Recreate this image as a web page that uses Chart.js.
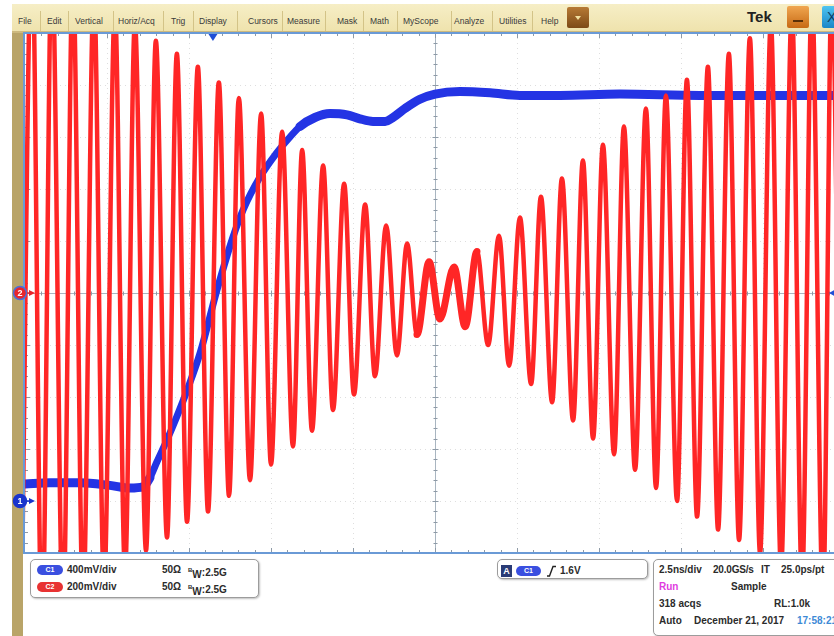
<!DOCTYPE html>
<html>
<head>
<meta charset="utf-8">
<script src="https://cdn.jsdelivr.net/npm/chart.js@4.4.1/dist/chart.umd.min.js"></script>
<style>
  html, body { margin: 0; padding: 0; width: 834px; height: 636px; overflow: hidden; background: #fff; }
  body { position: relative; font-family: "Liberation Sans", Arial, sans-serif; }
  #scope { position: absolute; left: 0; top: 0; z-index: 2; }
  .goldstrip { position: absolute; left: 12px; top: 30px; width: 11px; height: 606px; background: #b9a468; }
  .menubar { position: absolute; left: 12px; top: 4px; width: 840px; height: 27px;
             background: linear-gradient(#f6eec6, #efe3ad); border-bottom: 2px solid #cdb97e; }
  .mi { position: absolute; top: 12px; font-size: 8.5px; line-height: 11px; color: #3a3a3a; white-space: nowrap; }
  .sep { position: absolute; top: 7px; width: 1px; height: 20px; background: #d3c387; }
  .menubtn { position: absolute; top: 7px; left: 567px; width: 22px; height: 21px; border-radius: 2px;
             background: linear-gradient(#b77a35, #7c4a16); }
  .menubtn:after { content: ""; position: absolute; left: 8px; top: 9px; border-left: 3px solid transparent;
             border-right: 3px solid transparent; border-top: 4px solid #f3e1a0; }
  .tek { position: absolute; left: 747px; top: 8px; font-weight: bold; font-size: 15px; line-height: 18px; color: #222; }
  .minbtn { position: absolute; left: 787px; top: 6px; width: 22px; height: 22px; border-radius: 2px;
            background: linear-gradient(#f0a650, #c76a15); }
  .minbtn:after { content: ""; position: absolute; left: 6px; top: 14px; width: 10px; height: 2px; background: #5a3008; }
  .closebtn { position: absolute; left: 822px; top: 6px; width: 22px; height: 22px; border-radius: 2px;
              background: linear-gradient(#4fc3f0, #1a86c8); color: #0c3d66; font-size: 14px; line-height: 22px; padding-left: 5px; box-sizing: border-box; }
  .box { position: absolute; border: 1px solid #9c9c9c; border-radius: 5px; background: #fff;
         box-shadow: 1px 1px 2px rgba(0,0,0,0.25); }
  .t { position: absolute; font-weight: bold; font-size: 10px; line-height: 12px; color: #2b2b2b; white-space: nowrap; }
  .pill { position: absolute; width: 26px; height: 10px; border-radius: 5px; color: #fff; font-size: 7px;
          line-height: 10px; text-align: center; font-weight: bold; }
  .aicon { position: absolute; left: 501px; top: 565px; width: 11px; height: 12px; background: #2a3b76;
           color: #fff; font-weight: bold; font-size: 9px; line-height: 12px; text-align: center; }
  .edge { position: absolute; left: 547px; top: 565px; }
  sub.bw { font-size: 10px; vertical-align: -2px; }
  sup.bw { font-size: 6px; vertical-align: 4px; }
</style>
</head>
<body>
  <div class="goldstrip"></div>
  <div class="menubar">
    <span class="mi" style="left:6px">File</span>
    <span class="sep" style="left:28px"></span>
    <span class="mi" style="left:35px">Edit</span>
    <span class="sep" style="left:56px"></span>
    <span class="mi" style="left:63px">Vertical</span>
    <span class="sep" style="left:101px"></span>
    <span class="mi" style="left:106px">Horiz/Acq</span>
    <span class="sep" style="left:151px"></span>
    <span class="mi" style="left:159px">Trig</span>
    <span class="sep" style="left:181px"></span>
    <span class="mi" style="left:187px">Display</span>
    <span class="sep" style="left:225px"></span>
    <span class="mi" style="left:236px">Cursors</span>
    <span class="sep" style="left:270px"></span>
    <span class="mi" style="left:275px">Measure</span>
    <span class="sep" style="left:313px"></span>
    <span class="mi" style="left:325px">Mask</span>
    <span class="sep" style="left:351px"></span>
    <span class="mi" style="left:358px">Math</span>
    <span class="sep" style="left:385px"></span>
    <span class="mi" style="left:391px">MyScope</span>
    <span class="sep" style="left:439px"></span>
    <span class="mi" style="left:442px">Analyze</span>
    <span class="sep" style="left:480px"></span>
    <span class="mi" style="left:487px">Utilities</span>
    <span class="sep" style="left:520px"></span>
    <span class="mi" style="left:529px">Help</span>
  </div>
  <div class="menubtn"></div>
  <div class="tek">Tek</div>
  <div class="minbtn"></div>
  <div class="closebtn">X</div>

  <!-- channel readout -->
  <div class="box" style="left:30px; top:559px; width:227px; height:37px;"></div>
  <div class="pill" style="left:37px; top:565px; background:#3a4fe0;">C1</div>
  <span class="t" style="left:67px; top:564px;">400mV/div</span>
  <span class="t" style="left:162px; top:564px;">50Ω</span>
  <span class="t" style="left:188px; top:564px;"><sup class="bw">B</sup><sub class="bw">W</sub>:2.5G</span>
  <div class="pill" style="left:37px; top:582px; background:#e83232;">C2</div>
  <span class="t" style="left:67px; top:581px;">200mV/div</span>
  <span class="t" style="left:162px; top:581px;">50Ω</span>
  <span class="t" style="left:188px; top:581px;"><sup class="bw">B</sup><sub class="bw">W</sub>:2.5G</span>

  <!-- trigger readout -->
  <div class="box" style="left:497px; top:559px; width:149px; height:18px;"></div>
  <div class="aicon">A</div>
  <div class="pill" style="left:516px; top:566px; width:25px; background:#3a4fe0;">C1</div>
  <svg class="edge" width="9" height="12" viewBox="0 0 9 12"><path d="M0 11 H2.5 L6 1.5 H9" fill="none" stroke="#222" stroke-width="1.4"/></svg>
  <span class="t" style="left:560px; top:565px;">1.6V</span>

  <!-- acquisition readout -->
  <div class="box" style="left:653px; top:559px; width:220px; height:75px;"></div>
  <span class="t" style="left:659px; top:564px;">2.5ns/div</span>
  <span class="t" style="left:713px; top:564px; letter-spacing:-0.2px;">20.0GS/s</span>
  <span class="t" style="left:761px; top:564px;">IT</span>
  <span class="t" style="left:781px; top:564px;">25.0ps/pt</span>
  <span class="t" style="left:659px; top:581px; color:#e03ce0;">Run</span>
  <span class="t" style="left:731px; top:581px;">Sample</span>
  <span class="t" style="left:659px; top:598px;">318 acqs</span>
  <span class="t" style="left:774px; top:598px;">RL:1.0k</span>
  <span class="t" style="left:659px; top:615px;">Auto</span>
  <span class="t" style="left:694px; top:615px;">December 21, 2017</span>
  <span class="t" style="left:797px; top:615px; color:#3d8ad6;">17:58:21</span>

  <canvas id="scope" width="880" height="636"></canvas>

<script>
// Timebase and vertical settings
const DIV_T = 2.5;        // ns per horizontal division
const C1_DIV = 0.4;       // V per division, channel 1
const C2_DIV = 0.2;       // V per division, channel 2
const TRIG_T = 5.73;      // trigger position, ns from left edge of record
const TRIG_LEVEL = 1.6;   // V on channel 1

// Channel 2: successive peaks and troughs of the beating sine (ns, V)
const c2Time = [
  -0.12, 0.21, 0.52, 0.82, 1.16, 1.46, 1.77, 2.10, 2.41, 2.74,
  3.05, 3.35, 3.69, 3.99, 4.33, 4.63, 4.94, 5.27, 5.58, 5.91,
  6.22, 6.52, 6.86, 7.20, 7.50, 7.84, 8.17, 8.45, 8.75, 9.09,
  9.39, 9.73, 10.03, 10.37, 10.67, 11.01, 11.34, 11.65, 11.95, 12.32,
  12.65, 13.08, 13.42, 13.78, 14.12, 14.45, 14.76, 15.09, 15.43, 15.73,
  16.07, 16.37, 16.71, 17.01, 17.32, 17.62, 17.96, 18.26, 18.60, 18.93,
  19.24, 19.54, 19.88, 20.18, 20.49, 20.82, 21.13, 21.46, 21.77, 22.10,
  22.41, 22.74, 23.05, 23.38, 23.69, 23.99, 24.33, 24.60, 24.94, 25.24
];
const c2Volts = [
  -1.39, 1.36, -1.33, 1.30, -1.26, 1.23, -1.20, 1.17, -1.13, 1.10,
  -1.07, 1.04, -0.99, 0.97, -0.94, 0.92, -0.88, 0.87, -0.84, 0.81,
  -0.78, 0.75, -0.72, 0.69, -0.66, 0.62, -0.59, 0.55, -0.53, 0.49,
  -0.45, 0.42, -0.39, 0.34, -0.32, 0.26, -0.24, 0.19, -0.16, 0.12,
  -0.10, 0.10, -0.13, 0.16, -0.20, 0.22, -0.28, 0.29, -0.35, 0.37,
  -0.42, 0.44, -0.49, 0.51, -0.56, 0.57, -0.62, 0.64, -0.68, 0.71,
  -0.75, 0.76, -0.80, 0.82, -0.86, 0.87, -0.91, 0.92, -0.95, 0.98,
  -1.00, 1.04, -1.06, 1.10, -1.12, 1.15, -1.18, 1.21, -1.24, 1.27
];

// Channel 1: rising step with overshoot and settling (ns, V)
const c1Time = [
  0, 0.76, 1.68, 2.59, 3.20, 3.60, 3.81, 4.02, 4.33, 4.63,
  4.94, 5.34, 5.85, 6.34, 6.65, 7.16, 7.68, 8.08, 8.38, 8.84,
  9.30, 9.82, 10.21, 10.61, 10.98, 11.22, 11.59, 12.04, 12.50, 13.26,
  14.18, 15.09, 16.31, 18.14, 20.58, 23.02, 25.0
];
const c1Volts = [
  0.13, 0.14, 0.14, 0.12, 0.10, 0.11, 0.18, 0.30, 0.47, 0.65,
  0.85, 1.14, 1.62, 2.03, 2.24, 2.49, 2.68, 2.80, 2.88, 2.95,
  2.98, 2.97, 2.94, 2.92, 2.92, 2.95, 3.02, 3.09, 3.13, 3.15,
  3.14, 3.12, 3.12, 3.13, 3.12, 3.12, 3.12
];

const C1_COLOR = '#2434e4';
const C2_COLOR = '#ff2626';

const c2Points = c2Time.map((t, i) => ({ x: t, y: c2Volts[i] }));
const c1Points = c1Time.map((t, i) => ({ x: t, y: c1Volts[i] }));

function line(ctx, x1, y1, x2, y2) {
  ctx.beginPath(); ctx.moveTo(x1, y1); ctx.lineTo(x2, y2); ctx.stroke();
}

// Graticule, frame and channel / trigger markers
const scopeGraticule = {
  id: 'scopeGraticule',
  beforeDatasetsDraw(chart) {
    const { ctx, chartArea: a } = chart;
    const xs = chart.scales.x, ys = chart.scales.yC2;
    ctx.save();
    ctx.fillStyle = '#ffffff';
    ctx.fillRect(a.left, a.top, a.right - a.left, a.bottom - a.top);

    // faint dotted division lines
    ctx.strokeStyle = 'rgba(160,160,160,0.35)';
    ctx.lineWidth = 1;
    ctx.setLineDash([1, 4]);
    for (let k = 1; k < 10; k++) {
      if (k === 5) continue;
      const x = Math.round(xs.getPixelForValue(k * DIV_T)) + 0.5;
      line(ctx, x, a.top, x, a.bottom);
      const y = Math.round(ys.getPixelForValue(-5 * C2_DIV + k * C2_DIV)) + 0.5;
      line(ctx, a.left, y, a.right, y);
    }
    ctx.setLineDash([]);

    // centre crosshair
    const cx = Math.round(xs.getPixelForValue(5 * DIV_T)) + 0.5;
    const cy = Math.round(ys.getPixelForValue(0)) + 0.5;
    ctx.strokeStyle = '#a9b5c0';
    line(ctx, cx, a.top, cx, a.bottom);
    line(ctx, a.left, cy, a.right, cy);

    // minor / major ticks on the frame and crosshair
    ctx.strokeStyle = '#8e9aa6';
    for (let i = 1; i < 50; i++) {
      const x = Math.round(xs.getPixelForValue(i * DIV_T / 5)) + 0.5;
      const major = i % 5 === 0;
      const L = major ? 5 : 3, c = major ? 3 : 2;
      line(ctx, x, a.top, x, a.top + L);
      line(ctx, x, a.bottom - L, x, a.bottom);
      line(ctx, x, cy - c, x, cy + c);
    }
    for (let i = 1; i < 50; i++) {
      const y = Math.round(ys.getPixelForValue(-5 * C2_DIV + i * C2_DIV / 5)) + 0.5;
      const major = i % 5 === 0;
      const L = major ? 5 : 3, c = major ? 3 : 2;
      line(ctx, a.left, y, a.left + L, y);
      line(ctx, cx - c, y, cx + c, y);
    }
    ctx.restore();
  },
  afterDatasetsDraw(chart) {
    const { ctx, chartArea: a } = chart;
    const xs = chart.scales.x, y2 = chart.scales.yC2, y1 = chart.scales.yC1;
    ctx.save();

    // frame
    ctx.strokeStyle = '#6a9ad6';
    ctx.lineWidth = 2;
    ctx.beginPath();
    ctx.moveTo(a.right + 10, a.top);
    ctx.lineTo(a.left - 1, a.top);
    ctx.lineTo(a.left - 1, a.bottom);
    ctx.lineTo(a.right + 10, a.bottom);
    ctx.stroke();

    // trigger position marker
    const tx = xs.getPixelForValue(TRIG_T);
    ctx.fillStyle = '#1f4fd6';
    ctx.beginPath();
    ctx.moveTo(tx - 4.5, a.top + 1);
    ctx.lineTo(tx + 4.5, a.top + 1);
    ctx.lineTo(tx, a.top + 8);
    ctx.closePath();
    ctx.fill();

    // trigger level marker on the right
    const ty = y1.getPixelForValue(TRIG_LEVEL);
    ctx.beginPath();
    ctx.moveTo(829, ty);
    ctx.lineTo(837, ty - 4.5);
    ctx.lineTo(837, ty + 4.5);
    ctx.closePath();
    ctx.fill();

    // channel ground markers
    const markers = [
      { label: '2', y: y2.getPixelForValue(0), fill: '#e8262c', ring: '#4a6fd8' },
      { label: '1', y: y1.getPixelForValue(0), fill: '#1a34cc', ring: '#1a34cc' }
    ];
    markers.forEach(m => {
      ctx.fillStyle = m.fill;
      ctx.beginPath();
      ctx.moveTo(29, m.y - 3);
      ctx.lineTo(35, m.y);
      ctx.lineTo(29, m.y + 3);
      ctx.closePath();
      ctx.fill();
      ctx.fillRect(25, m.y - 0.75, 5, 1.5);
      ctx.beginPath();
      ctx.arc(20, m.y, 6.5, 0, Math.PI * 2);
      ctx.fill();
      ctx.lineWidth = 1.5;
      ctx.strokeStyle = m.ring;
      ctx.stroke();
      ctx.fillStyle = '#ffffff';
      ctx.font = 'bold 9px "Liberation Sans", Arial, sans-serif';
      ctx.textAlign = 'center';
      ctx.textBaseline = 'middle';
      ctx.fillText(m.label, 20, m.y + 0.5);
    });
    ctx.restore();
  }
};

new Chart(document.getElementById('scope'), {
  type: 'line',
  data: {
    datasets: [
      {
        label: 'C2',
        data: c2Points,
        yAxisID: 'yC2',
        borderColor: C2_COLOR,
        borderWidth: 4.5,
        borderCapStyle: 'round',
        borderJoinStyle: 'round',
        pointRadius: 0,
        cubicInterpolationMode: 'monotone',
        order: 0,
        clip: 0,
        segment: {
          borderWidth: ctx => {
            const t = (ctx.p0.parsed.x + ctx.p1.parsed.x) / 2;
            return (t > 11.8 && t < 13.9) ? 7 : 4.5;
          }
        }
      },
      {
        label: 'C1',
        data: c1Points,
        yAxisID: 'yC1',
        borderColor: C1_COLOR,
        borderWidth: 8,
        borderCapStyle: 'round',
        borderJoinStyle: 'round',
        pointRadius: 0,
        cubicInterpolationMode: 'monotone',
        order: 1,
        clip: 0,
        segment: {
          borderWidth: ctx => {
            const v0 = ctx.p0.parsed.y, v1 = ctx.p1.parsed.y;
            return ((v0 < 0.2 && v1 < 0.2) || (v0 > 2.85 && v1 > 2.85)) ? 9 : 7;
          }
        }
      }
    ]
  },
  options: {
    responsive: false,
    animation: false,
    devicePixelRatio: 1,
    events: [],
    layout: { padding: { left: 25, top: 33, right: 35, bottom: 83 } },
    scales: {
      x: { type: 'linear', min: 0, max: 10 * DIV_T, display: false },
      yC2: { type: 'linear', min: -5 * C2_DIV, max: 5 * C2_DIV, display: false },
      yC1: { type: 'linear', min: -1 * C1_DIV, max: 9 * C1_DIV, display: false }
    },
    plugins: { legend: { display: false }, tooltip: { enabled: false } }
  },
  plugins: [scopeGraticule]
});
</script>
</body>
</html>
